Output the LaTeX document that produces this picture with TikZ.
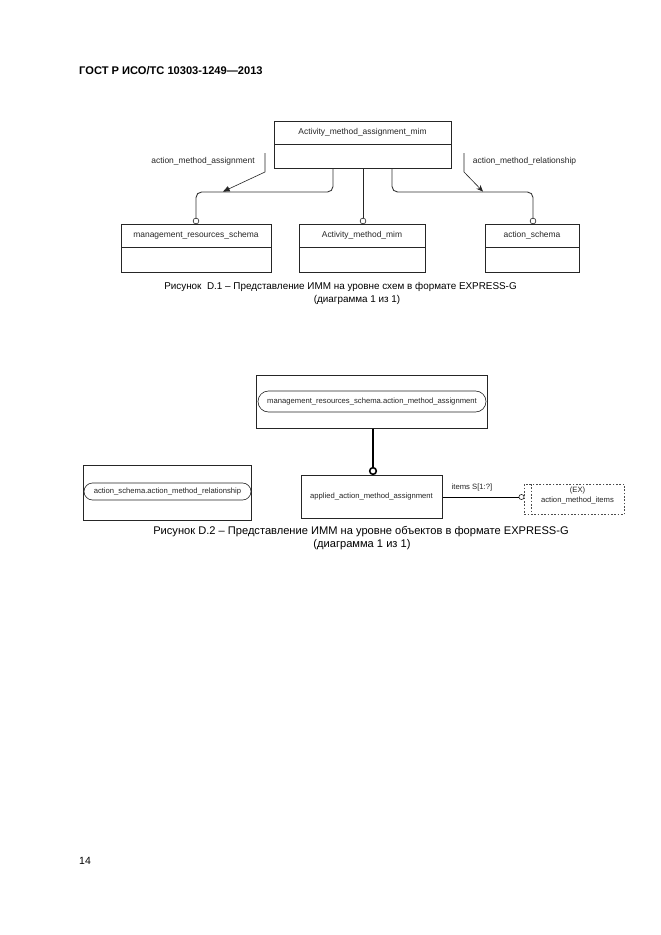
\documentclass[tikz,border=0pt]{standalone}
\usepackage{fontspec}
\setmainfont{Liberation Sans}
\usetikzlibrary{arrows.meta,calc,shapes.misc}
\begin{document}
\begin{tikzpicture}[x=0.9pt,y=-0.9pt,
  box/.style={draw=black!85, line width=0.55pt, rectangle, inner sep=0pt, anchor=north west},
  lblA/.style={font=\fontsize{7.6}{9}\selectfont, inner sep=0pt, text=black!85},
  lblB/.style={font=\fontsize{6.9}{8}\selectfont, inner sep=0pt, text=black!85},
  capA/.style={font=\fontsize{8.9}{11}\selectfont, inner sep=0pt},
  capB/.style={font=\fontsize{10}{11}\selectfont, inner sep=0pt},
  conn/.style={draw=black!80, line width=0.8pt},
  thin conn/.style={draw=black!85, line width=0.55pt},
  ring/.style={circle, draw=black!85, fill=white, inner sep=0pt, minimum size=5.2pt, line width=0.55pt},
  stadium/.style={rounded rectangle, draw=black!85, line width=0.55pt, inner sep=0pt, anchor=center},
]
\useasboundingbox[fill=white] (0,0) rectangle (661,935);

% header and page number
\node[anchor=west, inner sep=0pt, font=\bfseries\fontsize{10}{12}\selectfont] (hdr) at (79,71) {ГОСТ Р ИСО/ТС 10303-1249—2013};
\node[anchor=west, inner sep=0pt, font=\fontsize{9.4}{11}\selectfont] (pg) at (79,861) {14};

% ---------- Figure D.1 ----------
\node[box, minimum width={177*0.9pt}, minimum height={47*0.9pt}] (A) at (274,121) {};
\draw[thin conn] (274,144) -- (451,144);
\node[lblA] (At) at (362.5,132.5) {Activity\_method\_assignment\_mim};

\node[box, minimum width={150*0.9pt}, minimum height={48*0.9pt}] (M) at (121,224) {};
\draw[thin conn] (121,247) -- (271,247);
\node[lblA] (Mt) at (196,235.5) {management\_resources\_schema};

\node[box, minimum width={126*0.9pt}, minimum height={48*0.9pt}] (I) at (299,224) {};
\draw[thin conn] (299,247) -- (425,247);
\node[lblA] (It) at (362,235.5) {Activity\_method\_mim};

\node[box, minimum width={94*0.9pt}, minimum height={48*0.9pt}] (S) at (485,224) {};
\draw[thin conn] (485,247) -- (579,247);
\node[lblA] (St) at (532,235.5) {action\_schema};

\node[ring] (rM) at (196,221) {};
\node[ring] (rI) at (363,221) {};
\node[ring] (rS) at (533,221) {};

\draw[conn, rounded corners=5pt] (A.south -| 333,0) -- (333,192) -- (196,192) -- (rM.north);
\draw[thin conn] (A.south -| 363,0) -- (rI.north);
\draw[conn, rounded corners=5pt] (A.south -| 392,0) -- (392,192) -- (533,192) -- (rS.north);

% relation labels with arrows
\node[lblA] (L1) at (203,161) {action\_method\_assignment};
\node[lblA] (L2) at (524.5,161) {action\_method\_relationship};
\coordinate (a1s) at (265,153);
\coordinate (a1e) at (223,191.6);
\draw[thin conn, -{Triangle[length=6pt,width=5pt]}] (a1s) -- (265,172) -- (a1e);
\coordinate (a2s) at (464,153);
\coordinate (a2e) at (483,191.6);
\draw[thin conn, -{Stealth[length=6pt,width=5pt]}] (a2s) -- (464,172) -- (a2e);

\node[capA] (c1a) at (340.5,287) {Рисунок\ \ D.1 – Представление ИММ на уровне схем в формате EXPRESS-G};
\node[capA] (c1b) at (357,300) {(диаграмма 1 из 1)};

% ---------- Figure D.2 ----------
\node[box, minimum width={231*0.9pt}, minimum height={53*0.9pt}] (B) at (256,375) {};
\node[stadium, minimum width={228*0.9pt}, minimum height={21*0.9pt}] (Bs) at (372,401.5) {};
\node[lblB] (Bt) at (372,401.5) {management\_resources\_schema.action\_method\_assignment};

\node[box, minimum width={168*0.9pt}, minimum height={55*0.9pt}] (Lb) at (83,465) {};
\node[stadium, minimum width={167*0.9pt}, minimum height={17*0.9pt}] (Ls) at (167.5,491.5) {};
\node[lblB] (Lt) at (167.5,491.5) {action\_schema.action\_method\_relationship};

\node[box, minimum width={141*0.9pt}, minimum height={43*0.9pt}] (P) at (301,475) {};
\node[lblB] (Pt) at (371.5,496.5) {applied\_action\_method\_assignment};

\node[circle, draw=black, fill=white, inner sep=0pt, minimum size=6pt, line width=1.4pt] (rP) at (373,471) {};
\draw[draw=black, line width=2.2pt] (B.south -| 373,0) -- (rP.north);

\node[box, draw=black!70, dash pattern=on 1.6pt off 1.4pt, minimum width={100*0.9pt}, minimum height={30*0.9pt}] (D) at (524,484) {};
\draw[draw=black!70, line width=0.55pt, dash pattern=on 1.6pt off 1.4pt] (531,484) -- (531,514);
\node[lblB, align=center, font=\fontsize{6.9}{9}\selectfont] (Dt) at (577.5,495.5) {(EX)\\action\_method\_items};

\node[ring, minimum size=4.6pt] (rD) at (521.5,497) {};
\draw[thin conn, draw=black] (P.east |- 0,497) -- (rD.west);
\node[lblB] (it) at (472,487.5) {items S[1:?]};

\node[capB] (c2a) at (361,532) {Рисунок D.2 – Представление ИММ на уровне объектов в формате EXPRESS-G};
\node[capB] (c2b) at (362,545) {(диаграмма 1 из 1)};
\end{tikzpicture}
\end{document}
